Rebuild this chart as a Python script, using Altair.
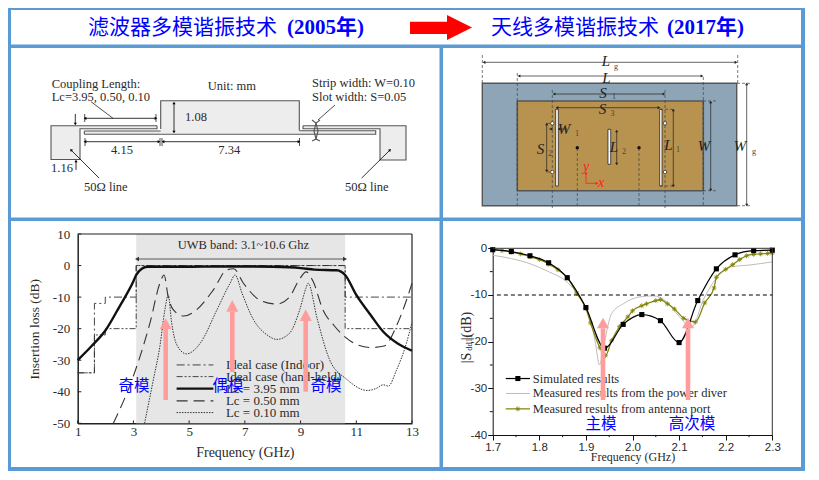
import math
import altair as alt
import pandas as pd

W, H = 803, 464
BLUE = "#5B9BD5"
PINK = "#FF9C9C"
SERIF = "Liberation Serif, Noto Sans CJK SC"
CJK = "Noto Sans CJK SC"
INK = "#2a2a2a"

# ---------- left plot: insertion loss ----------
ideal_in_f = [1, 1.6, 1.6, 1.99, 1.99, 3.1, 3.1, 10.6, 10.6, 13]
ideal_in_db = [-34, -34, -12, -12, -10, -10, 0, 0, -10, -10]
ideal_hh_f = [1, 1.6, 1.6, 1.99, 1.99, 3.1, 3.1, 10.6, 10.6, 13]
ideal_hh_db = [-34, -34, -22, -22, -20, -20, 0, 0, -20, -20]
lc395_f = [1, 1.5, 2, 2.5, 3, 3.1, 3.3, 3.5, 4, 5, 6, 7, 8, 9, 9.5, 10.3, 10.6, 11, 11.5, 11.97, 12.5, 13]
lc395_db = [-30, -25.5, -20.5, -13, -5, -3, -1, -0.4, -0.4, -0.4, -0.3, -0.3, -0.4, -0.8, -1.3, -1.5, -3, -9.3, -15.5, -21, -24.8, -27]
lc050_f = [2.28, 3, 3.6, 3.95, 4.1, 4.25, 4.43, 4.8, 5.27, 5.87, 6.35, 6.6, 6.95, 7.55, 8.15, 8.6, 8.95, 9.2, 9.45, 9.8, 10.2, 10.8, 11.5, 12, 12.45, 12.8, 13]
lc050_db = [-50, -35, -18, -5.6, -3, -10, -14, -16, -14, -7.7, -1.4, -1, -5.6, -11, -12.2, -10, -4.5, -2, -5, -14, -19, -24, -26, -25.5, -19, -11, -5.6]
lc010_f = [3.4, 3.72, 3.95, 4.13, 4.25, 4.37, 4.55, 4.9, 5.4, 6, 6.47, 6.65, 6.9, 7.3, 7.8, 8.15, 8.6, 8.97, 9.2, 9.27, 9.6, 10.05, 10.65, 11.4, 11.7, 11.97, 12.15, 12.45, 12.8, 13]
lc010_db = [-50, -36, -25.6, -14, -9.3, -18, -25, -28, -24.6, -14, -5.6, -3, -8.8, -17, -22, -23.4, -21.5, -14, -7, -5.6, -17, -30, -36, -39.6, -39, -37.8, -38.2, -33, -24.6, -18]
left_x_ticks = [1, 3, 5, 7, 9, 11, 13]
left_y_ticks = [10, 0, -10, -20, -30, -40, -50]
left_legend = ["Ideal case (Indoor)", "Ideal case (hand-held)", "Lc = 3.95 mm", "Lc = 0.50 mm", "Lc = 0.10 mm"]
left_legend_db = [-31.5, -35.2, -39, -42.9, -46.6]

# ---------- right plot: |Sdd11| ----------
sim_f = [1.70, 1.74, 1.78, 1.82, 1.86, 1.90, 1.94, 1.98, 2.02, 2.06, 2.10, 2.14, 2.18, 2.22, 2.26, 2.30]
sim_db = [-0.3, -0.7, -1.6, -3.1, -6.3, -12.7, -21.4, -16.3, -14.2, -15.5, -20.2, -11.2, -4.4, -1.4, -0.5, -0.4]
div_f = [1.7, 1.74, 1.78, 1.82, 1.86, 1.89, 1.91, 1.92, 1.929, 1.94, 1.955, 1.98, 2.016, 2.045, 2.073, 2.10, 2.127, 2.152, 2.18, 2.215, 2.25, 2.3]
div_db = [-1.5, -2.2, -3.3, -5, -7.3, -11, -15.5, -20, -25, -20, -14, -11.9, -10.4, -10.2, -11.4, -14.6, -16.9, -11, -6.4, -3.9, -3.6, -2.9]
ant_f = [1.70, 1.72, 1.74, 1.76, 1.78, 1.80, 1.82, 1.84, 1.86, 1.88, 1.90, 1.91, 1.93, 1.942, 1.955, 1.972, 1.99, 2.0, 2.02, 2.03, 2.05, 2.06, 2.075, 2.09, 2.11, 2.135, 2.155, 2.175, 2.18, 2.2, 2.215, 2.23, 2.245, 2.26, 2.275, 2.29, 2.3]
ant_db = [-0.3, -0.5, -0.8, -1.2, -1.8, -2.4, -3.4, -4.6, -6.3, -9.6, -12.9, -16, -21.3, -23, -19.8, -16.8, -14.7, -13.4, -12.3, -11.9, -11.2, -11, -11.9, -13, -15, -15.8, -11.7, -8.5, -6.2, -4.5, -3.5, -2.4, -1.6, -1.3, -1.2, -1.1, -1]
right_x_ticks = [1.7, 1.8, 1.9, 2.0, 2.1, 2.2, 2.3]
right_x_minor = [1.75, 1.85, 1.95, 2.05, 2.15, 2.25]
right_y_ticks = [0, -10, -20, -30, -40]
right_y_minor = [-5, -15, -25, -35]
right_legend = ["Simulated results", "Measured results from the power diver", "Measured results from antenna port"]
right_legend_db = [-27.9, -31.1, -34.4]

# ---------- page furniture and schematics ----------
frame_rects = [(8, 805, 8, 10), (8, 11, 8, 471), (801, 805, 8, 471), (8, 805, 467, 471),
               (8, 805, 44.5, 48), (8, 805, 217.5, 221), (439.5, 443, 48, 467)]
filter_fill = [(51, 80, 125.7, 159.5), (80, 157, 125.7, 128.7), (160.7, 299.3, 100.7, 133.5),
               (84.3, 160.7, 131, 134), (299.3, 375.7, 131, 134), (380, 406, 125.7, 160),
               (303, 380, 125.7, 128.7)]
filter_outline = [
    [(157, 125.7), (51, 125.7), (51, 159.5), (80, 159.5), (80, 128.7), (157, 128.7), (157, 125.7)],
    [(160.7, 129), (160.7, 100.7), (299.3, 100.7), (299.3, 130.5)],
    [(84.3, 131), (160.7, 131)], [(84.3, 134.2), (375.7, 134.2), (375.7, 130.7), (299.3, 130.7)],
    [(84.3, 131), (84.3, 134.2)],
    [(303, 125.7), (406, 125.7), (406, 160), (380, 160), (380, 128.7), (303, 128.7), (303, 125.7)],
    [(320, 120), (316, 123), (314, 131), (316, 139), (320, 141)],
    [(312, 120), (316, 123), (318, 131), (316, 139), (312, 141)],
]
filter_thin = [[(84.7, 114), (84.7, 122)], [(156, 114), (156, 122)], [(85, 138), (85, 146)],
               [(160, 138), (160, 146)], [(162, 138), (162, 146)], [(299.5, 138), (299.5, 146)],
               [(91, 101.7), (113, 118.3)], [(335, 105), (318, 120)]]
filter_arrows_two = [(85, 118.3, 156, 118.3), (85, 141.7, 159, 141.7), (163, 141.7, 299, 141.7), (174, 103, 174, 132)]
filter_arrows_one = [(75.3, 114, 75.3, 124), (76, 170, 76, 161), (99, 178, 71, 150), (361.7, 178, 390, 150)]
filter_labels = [("Coupling Length:", 51.7, 84), ("Lc=3.95, 0.50, 0.10", 51.7, 96.7), ("Unit: mm", 207.7, 85.7),
                 ("Strip width: W=0.10", 312, 83), ("Slot width: S=0.05", 312, 96.7), ("1.08", 185, 116.7),
                 ("4.15", 111, 150), ("7.34", 218.3, 150), ("1.16", 51, 167.7), ("50Ω line", 84, 187), ("50Ω line", 345, 187)]
uwb_arrow = [(137, 259, 345, 259)]

ground = [(482.3, 736.7, 83.3, 205.7)]
patch = [(517.3, 703.3, 101, 190.7)]
slots = [(555.7, 558.3, 109.3, 186), (659.7, 662, 109.3, 186), (608, 610.7, 129.3, 164.3)]
holes_x = [552.3, 552.3, 665, 665]
holes_y = [123.3, 172, 123.3, 172]
feeds_x = [577.3, 639]
feeds_y = [147.7, 147.7]
ant_dashed = [[(482.3, 55), (482.3, 83)], [(517.3, 73), (517.3, 207)], [(552.3, 90), (552.3, 208)],
              [(577.3, 148), (577.3, 208)], [(639, 148), (639, 208)], [(665, 90), (665, 208)],
              [(703.3, 77), (703.3, 207)], [(737.7, 55), (737.7, 83)], [(737, 83.3), (752, 83.3)],
              [(703, 101), (717, 101)], [(703, 190.7), (717, 190.7)], [(737, 205.7), (752, 205.7)],
              [(547, 123.3), (552, 123.3)], [(547, 172), (552, 172)], [(660, 109.3), (674, 109.3)], [(660, 186), (674, 186)]]
ant_arrows_two = [(484, 62.3, 736, 62.3), (519, 76, 702, 76), (554, 94, 664, 94), (557, 107.7, 659, 107.7),
                  (710.7, 102, 710.7, 190), (746.7, 84, 746.7, 205), (546.7, 124, 546.7, 171),
                  (616.7, 131, 616.7, 164), (673.3, 110, 673.3, 186)]
ant_arrows_one = [(567, 129, 559, 129), (549, 129, 552, 129)]
ant_red = [(586, 183.3, 586, 173), (586, 183.3, 597, 183.3)]
ant_labels = [("L", 606, 61), ("L", 606.5, 77.5), ("S", 603, 93), ("S", 602.5, 109), ("W", 564, 129), ("S", 540.5, 149),
              ("L", 614, 146.5), ("L", 668.5, 145), ("W", 704, 145.5), ("W", 740, 145.5)]
ant_subs = [("g", 616, 67), ("1", 614, 97), ("3", 612.5, 114), ("1", 577, 134), ("2", 550, 154), ("2", 624, 152), ("1", 678, 150), ("g", 754, 152)]

pink_arrows = [(165.7, 400, 329, 318.3), (232.3, 372, 311.7, 300), (305.7, 391.7, 321, 309.3), (603, 400, 328.3, 317.7), (688, 400, 328.3, 317.7)]
mode_labels = [("奇模", 134, 386), ("偶模", 228, 386), ("奇模", 326, 386), ("主模", 601, 424), ("高次模", 692, 424)]


PX = alt.Scale(domain=[8, 8 + W], range=[0, W], nice=False, zero=False)
PY = alt.Scale(domain=[8, 8 + H], range=[0, H], nice=False, zero=False)


def XP(f="x"):
    return alt.X(f"{f}:Q", scale=PX, axis=None)


def YP(f="y"):
    return alt.Y(f"{f}:Q", scale=PY, axis=None)


def rects(rows, **mark):
    df = pd.DataFrame(rows, columns=["x", "x2", "y", "y2"])
    return alt.Chart(df).mark_rect(**mark).encode(x=XP(), x2="x2:Q", y=YP(), y2="y2:Q")


def polylines(polys, **mark):
    rows = [{"id": i, "o": j, "x": p[0], "y": p[1]} for i, poly in enumerate(polys) for j, p in enumerate(poly)]
    return alt.Chart(pd.DataFrame(rows)).mark_line(**mark).encode(
        x=XP(), y=YP(), detail="id:N", order=alt.Order("o:Q"))


def arrows(two, one, color="black", width=0.8, size=10):
    polys, heads = [], []
    for x1, y1, x2, y2 in one + two:
        polys.append([(x1, y1), (x2, y2)])
        heads.append({"x": x2, "y": y2, "a": math.degrees(math.atan2(x2 - x1, y1 - y2)) % 360})
    for x1, y1, x2, y2 in two:
        heads.append({"x": x1, "y": y1, "a": math.degrees(math.atan2(x1 - x2, y2 - y1)) % 360})
    return [polylines(polys, color=color, strokeWidth=width),
            alt.Chart(pd.DataFrame(heads)).mark_point(shape="triangle-up", filled=True, size=size, color=color, opacity=1).encode(
                x=XP(), y=YP(), angle=alt.Angle("a:Q", scale=None))]


def texts(rows, **mark):
    df = pd.DataFrame(rows, columns=["t", "x", "y"])
    mark.setdefault("baseline", "middle")
    mark.setdefault("align", "left")
    return alt.Chart(df).mark_text(**mark).encode(x=XP(), y=YP(), text="t:N")


def points(xs, ys, **mark):
    return alt.Chart(pd.DataFrame({"x": xs, "y": ys})).mark_point(**mark).encode(x=XP(), y=YP())


def pink(rows):
    shafts = [(c - 2.3, c + 2.3, b, h) for c, b, h, t in rows]
    tri = []
    for i, (c, b, h, t) in enumerate(rows):
        tri += [{"id": i, "x": c - 6, "y": h, "y2": h}, {"id": i, "x": c, "y": t, "y2": h}, {"id": i, "x": c + 6, "y": h, "y2": h}]
    return [rects(shafts, color=PINK),
            alt.Chart(pd.DataFrame(tri)).mark_area(color=PINK, opacity=1).encode(x=XP(), y=YP(), y2="y2:Q", detail="id:N")]


# ----- plot scales (explicit ranges = page pixels minus the 8px margin) -----
LSX = alt.Scale(domain=[1, 13], range=[77.7 - 8, 412 - 8], nice=False, zero=False)
LSY = alt.Scale(domain=[-50, 10], range=[423.3 - 8, 234 - 8], nice=False, zero=False)
RSX = alt.Scale(domain=[1.7, 2.3], range=[492.7 - 8, 772.3 - 8], nice=False, zero=False)
RSY = alt.Scale(domain=[-40, 0], range=[435 - 8, 248.3 - 8], nice=False, zero=False)


def lplot(fs, dbs, interp="linear", **mark):
    return alt.Chart(pd.DataFrame({"f": fs, "d": dbs, "o": range(len(fs))})).mark_line(interpolate=interp, **mark).encode(
        x=alt.X("f:Q", scale=LSX, axis=None), y=alt.Y("d:Q", scale=LSY, axis=None), order=alt.Order("o:Q"))


def rplot(fs, dbs, interp="monotone", **mark):
    return alt.Chart(pd.DataFrame({"f": fs, "d": dbs, "o": range(len(fs))})).mark_line(interpolate=interp, **mark).encode(
        x=alt.X("f:Q", scale=RSX, axis=None), y=alt.Y("d:Q", scale=RSY, axis=None), order=alt.Order("o:Q"))


def rmark(fs, dbs, **mark):
    return alt.Chart(pd.DataFrame({"f": fs, "d": dbs})).mark_point(**mark).encode(
        x=alt.X("f:Q", scale=RSX, axis=None), y=alt.Y("d:Q", scale=RSY, axis=None))


def ltext(rows, **mark):
    return alt.Chart(pd.DataFrame(rows, columns=["t", "f", "d"])).mark_text(baseline="middle", font=SERIF, color=INK, **mark).encode(
        x=alt.X("f:Q", scale=LSX, axis=None), y=alt.Y("d:Q", scale=LSY, axis=None), text="t:N")


def rtext(rows, **mark):
    return alt.Chart(pd.DataFrame(rows, columns=["t", "f", "d"])).mark_text(baseline="middle", font=SERIF, color=INK, **mark).encode(
        x=alt.X("f:Q", scale=RSX, axis=None), y=alt.Y("d:Q", scale=RSY, axis=None), text="t:N")


def lrules(rows, **mark):
    return alt.Chart(pd.DataFrame(rows, columns=["f", "f2", "d", "d2"])).mark_rule(**mark).encode(
        x=alt.X("f:Q", scale=LSX, axis=None), x2="f2:Q", y=alt.Y("d:Q", scale=LSY, axis=None), y2="d2:Q")


def rrules(rows, **mark):
    return alt.Chart(pd.DataFrame(rows, columns=["f", "f2", "d", "d2"])).mark_rule(**mark).encode(
        x=alt.X("f:Q", scale=RSX, axis=None), x2="f2:Q", y=alt.Y("d:Q", scale=RSY, axis=None), y2="d2:Q")


# shading + axes of the left plot
left_base = alt.Chart(pd.DataFrame({"f": [3.1], "f2": [10.6], "d": [-50], "d2": [10]})).mark_rect(color="#E6E6E6").encode(
    x=alt.X("f:Q", scale=LSX, axis=alt.Axis(
        orient="bottom", offset=-(472 - 423.3), values=left_x_ticks, title="Frequency (GHz)", tickSize=0, grid=False,
        domainColor="#222", domainWidth=1.5, labelFont=SERIF, labelFontSize=13, labelColor=INK, labelPadding=2,
        labelFlush=False, labelOverlap=False, labelExpr="'' + datum.value",
        titleFont=SERIF, titleFontSize=14, titleFontWeight="normal", titleColor=INK, titlePadding=7)),
    x2="f2:Q",
    y=alt.Y("d:Q", scale=LSY, axis=alt.Axis(
        orient="left", offset=-(77.7 - 8), values=left_y_ticks, title="Insertion loss (dB)", tickSize=0, grid=False,
        domainColor="#222", domainWidth=1.5, labelFont=SERIF, labelFontSize=13, labelColor=INK, labelPadding=8,
        labelFlush=False, labelOverlap=False, labelExpr="'' + datum.value",
        titleFont=SERIF, titleFontSize=13.5, titleFontWeight="normal", titleColor=INK, titlePadding=11)),
    y2="d2:Q")

left_layers = [
    left_base,
    lrules([(1, 13, 10, 10), (13, 13, -50, 10)], color="#222", strokeWidth=1.2),
    lrules([(v, v, -50, -49.1) for v in left_x_ticks] + [(1, 1.13, v, v) for v in left_y_ticks], color="#222", strokeWidth=1),
    lplot(ideal_in_f, ideal_in_db, color="#333", strokeWidth=0.9, strokeDash=[8, 3, 2, 3]),
    lplot(ideal_hh_f, ideal_hh_db, color="#333", strokeWidth=0.9, strokeDash=[6, 2, 2, 2, 2, 2]),
    lplot(lc010_f, lc010_db, "monotone", color="#333", strokeWidth=1, strokeDash=[1.5, 1.2]),
    lplot(lc050_f, lc050_db, "monotone", color="#333", strokeWidth=1.1, strokeDash=[11, 6]),
    lplot(lc395_f, lc395_db, "monotone", color="#111", strokeWidth=2.4),
    ltext([("UWB band: 3.1~10.6 Ghz", 6.95, 6.5)], fontSize=12.5),
    lplot([4.55, 5.87], [left_legend_db[0]] * 2, color="#333", strokeWidth=0.9, strokeDash=[8, 3, 2, 3]),
    lplot([4.55, 5.87], [left_legend_db[1]] * 2, color="#333", strokeWidth=0.9, strokeDash=[6, 2, 2, 2, 2, 2]),
    lplot([4.55, 5.87], [left_legend_db[2]] * 2, color="#111", strokeWidth=2.4),
    lplot([4.55, 5.87], [left_legend_db[3]] * 2, color="#333", strokeWidth=1.1, strokeDash=[11, 6]),
    lplot([4.55, 5.87], [left_legend_db[4]] * 2, color="#333", strokeWidth=1, strokeDash=[1.5, 1.2]),
    ltext([(t, 6.32, d) for t, d in zip(left_legend, left_legend_db)], fontSize=13, align="left"),
]
left_layers += arrows(uwb_arrow, [], color="#333", size=22)

# axes of the right plot
right_base = rplot(sim_f, sim_db, color="black", strokeWidth=1.2).encode(
    x=alt.X("f:Q", scale=RSX, axis=alt.Axis(
        orient="bottom", offset=-(472 - 435), values=right_x_ticks, title="Frequency (GHz)", tickSize=5, tickColor="#111", grid=False,
        domainColor="#111", labelFont="Liberation Sans", labelFontSize=11.5, labelColor=INK, labelPadding=1,
        labelFlush=False, labelOverlap=False, labelExpr="format(datum.value, '.1f')",
        titleFont=SERIF, titleFontSize=12, titleFontWeight="normal", titleColor=INK, titlePadding=-1)),
    y=alt.Y("d:Q", scale=RSY, axis=alt.Axis(
        orient="left", offset=-(492.7 - 8), values=right_y_ticks, title=None, tickSize=5, tickColor="#111", grid=False,
        domainColor="#111", labelFont="Liberation Sans", labelFontSize=11.5, labelColor=INK, labelPadding=1,
        labelFlush=False, labelOverlap=False, labelExpr="'' + datum.value")))

ant_star = "M-1,0L1,0M0,-1L0,1M-.7,-.7L.7,.7M-.7,.7L.7,-.7"
right_layers = [
    rplot(div_f, div_db, color="#BDBDBD", strokeWidth=1),
    rplot(ant_f, ant_db, color="#808000", strokeWidth=1.2),
    rmark(ant_f, ant_db, shape=ant_star, size=24, color="#808000", strokeWidth=0.8, opacity=1),
    right_base,
    rmark(sim_f, sim_db, shape="square", filled=True, size=26, color="black", opacity=1),
    rrules([(1.7, 2.3, 0, 0), (2.3, 2.3, -40, 0)], color="#333", strokeWidth=1),
    rrules([(v, v, -40, -40.45) for v in right_x_minor] + [(1.7, 1.694, v, v) for v in right_y_minor], color="#111", strokeWidth=1),
    rrules([(1.709, 2.3, -10, -10)], color="black", strokeWidth=1.1, strokeDash=[4, 3]),
    rplot([1.728, 1.78], [right_legend_db[0]] * 2, "linear", color="black", strokeWidth=1.2),
    rmark([1.754], [right_legend_db[0]], shape="square", filled=True, size=26, color="black", opacity=1),
    rplot([1.728, 1.78], [right_legend_db[1]] * 2, "linear", color="#BDBDBD", strokeWidth=1),
    rplot([1.728, 1.78], [right_legend_db[2]] * 2, "linear", color="#808000", strokeWidth=1.2),
    rmark([1.754], [right_legend_db[2]], shape=ant_star, size=24, color="#808000", strokeWidth=0.8, opacity=1),
    rtext([(t, 1.786, d) for t, d in zip(right_legend, right_legend_db)], fontSize=12.5, align="left"),
]

layers = [rects(frame_rects, color=BLUE)]

# header
layers += [
    texts([("滤波器多模谐振技术", 88, 28)], font=CJK, fontSize=21, color="#0000FF"),
    texts([("(2005年)", 287, 28)], font=SERIF, fontSize=21, fontWeight="bold", color="#0000FF"),
    texts([("天线多模谐振技术", 491, 28)], font=CJK, fontSize=21, color="#0000FF"),
    texts([("(2017年)", 667, 28)], font=SERIF, fontSize=21, fontWeight="bold", color="#0000FF"),
    rects([(410, 447, 21.7, 34)], color="#FF0000"),
    alt.Chart(pd.DataFrame({"x": [447, 472], "y": [15, 27.5], "y2": [40, 27.5]})).mark_area(color="#FF0000", opacity=1).encode(
        x=XP(), y=YP(), y2="y2:Q"),
]

# filter schematic
layers += [
    rects(filter_fill, color="#EDEDED"),
    polylines(filter_outline, color="#555", strokeWidth=1.1),
    polylines(filter_thin, color="#222", strokeWidth=0.8),
]
layers += arrows(filter_arrows_two, filter_arrows_one)
layers += [texts(filter_labels, font=SERIF, fontSize=12.5, color=INK)]

# antenna schematic
layers += [
    rects(ground, color="#8DA5B6", stroke="#555", strokeWidth=1.4),
    rects(patch, color="#B8924F", stroke="#555", strokeWidth=1.6),
    rects(slots, color="white", stroke="#111", strokeWidth=0.7),
    polylines(ant_dashed, color="#444", strokeWidth=0.7, strokeDash=[3, 2]),
    points(holes_x, holes_y, shape="circle", filled=True, size=12, color="white", stroke="#222", strokeWidth=0.7, opacity=1),
    points(feeds_x, feeds_y, shape="circle", filled=True, size=12, color="#111", opacity=1),
]
layers += arrows(ant_arrows_two, ant_arrows_one, color="#222", width=0.7)
layers += arrows([], ant_red, color="#FF2020", width=0.8)
layers += [
    texts(ant_labels, font="Liberation Serif", fontSize=15, fontStyle="italic", color="#222", align="center"),
    texts(ant_subs, font="Liberation Serif", fontSize=8, color="#444", align="center"),
    texts([("y", 586, 167), ("x", 601, 183)], font="Liberation Serif", fontSize=14, fontStyle="italic", color="#FF2020", align="center"),
]

# plots
layers += left_layers + right_layers

# |Sdd11| title pieces
layers += [
    texts([("|S", 466.5, 358)], font="Liberation Serif", fontSize=14, angle=270, align="center", color=INK),
    texts([("dd11", 468.5, 342.5)], font="Liberation Serif", fontSize=8.5, angle=270, align="center", color=INK),
    texts([("|(dB)", 466.5, 326)], font="Liberation Serif", fontSize=14, angle=270, align="center", color=INK),
]

# annotations
layers += pink(pink_arrows)
layers += [texts(mode_labels, font=CJK, fontSize=15.5, color="#0000FF", align="center")]

chart = alt.layer(*layers).resolve_scale(x="independent", y="independent").properties(
    width=W, height=H, padding=0, autosize=alt.AutoSizeParams(type="none"), background="white"
).configure_view(stroke=None)

chart.save("out.html", embed_options={"renderer": "svg", "actions": False})
